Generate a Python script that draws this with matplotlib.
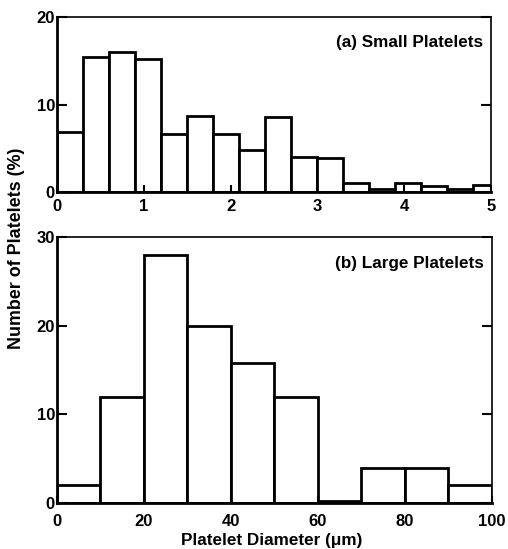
import matplotlib
import matplotlib.pyplot as plt
import numpy as np

matplotlib.use('Agg')

plt.rcParams['font.family'] = ['Liberation Sans', 'DejaVu Sans']
plt.rcParams['font.weight'] = 'bold'

# (a) small platelets, bins of 0.3 um starting at 0
small_left = np.arange(0, 5.1, 0.3)[:17]
small_pct = [6.9, 15.4, 16.0, 15.2, 6.6, 8.7, 6.6, 4.8, 8.6, 4.0, 3.9, 1.0, 0.4, 1.0, 0.75, 0.4, 0.85]

# (b) large platelets, bins of 10 um
large_left = np.arange(0, 100, 10)
large_pct = [2.0, 12.0, 28.0, 20.0, 15.8, 12.0, 0.2, 4.0, 4.0, 2.0]

fig = plt.figure(figsize=(5.08, 5.49), dpi=100)
ax1 = fig.add_axes([0.1122, 0.650, 0.854, 0.319])
ax2 = fig.add_axes([0.1122, 0.0838, 0.856, 0.4845])


def style(ax, xpad):
    for side in ['left', 'bottom']:
        ax.spines[side].set_linewidth(2.0)
    for side in ['top', 'right']:
        ax.spines[side].set_linewidth(1.2)
    ax.tick_params(axis='both', direction='in', labelsize=12, width=1.5)
    ax.tick_params(axis='y', length=7, right=True, pad=1.5)
    ax.tick_params(axis='x', length=5, pad=xpad)
    for lab in ax.get_xticklabels() + ax.get_yticklabels():
        lab.set_fontweight('bold')


ax1.bar(small_left, small_pct, width=0.3, align='edge', color='white',
        edgecolor='black', linewidth=2.0, clip_on=True)
ax1.set_xlim(0, 5)
ax1.set_ylim(0, 20)
ax1.set_xticks([0, 1, 2, 3, 4, 5])
ax1.set_yticks([0, 10, 20])
style(ax1, 5)
ax1.text(0.982, 0.855, '(a) Small Platelets', transform=ax1.transAxes,
         ha='right', va='center', fontsize=12.3, fontweight='bold')

ax2.bar(large_left, large_pct, width=10, align='edge', color='white',
        edgecolor='black', linewidth=2.0)
ax2.set_xlim(0, 100)
ax2.set_ylim(0, 30)
ax2.set_xticks([0, 20, 40, 60, 80, 100])
ax2.set_yticks([0, 10, 20, 30])
style(ax2, 8)
ax2.text(0.982, 0.9, '(b) Large Platelets', transform=ax2.transAxes,
         ha='right', va='center', fontsize=12.3, fontweight='bold')

fig.text(0.535, 0.0146, 'Platelet Diameter (\u03bcm)', ha='center', va='center',
         fontsize=12.3, fontweight='bold')
fig.text(0.033, 0.548, 'Number of Platelets (%)', rotation=90, ha='center', va='center',
         fontsize=12.9, fontweight='bold')

fig.savefig('out.png', dpi=100)
